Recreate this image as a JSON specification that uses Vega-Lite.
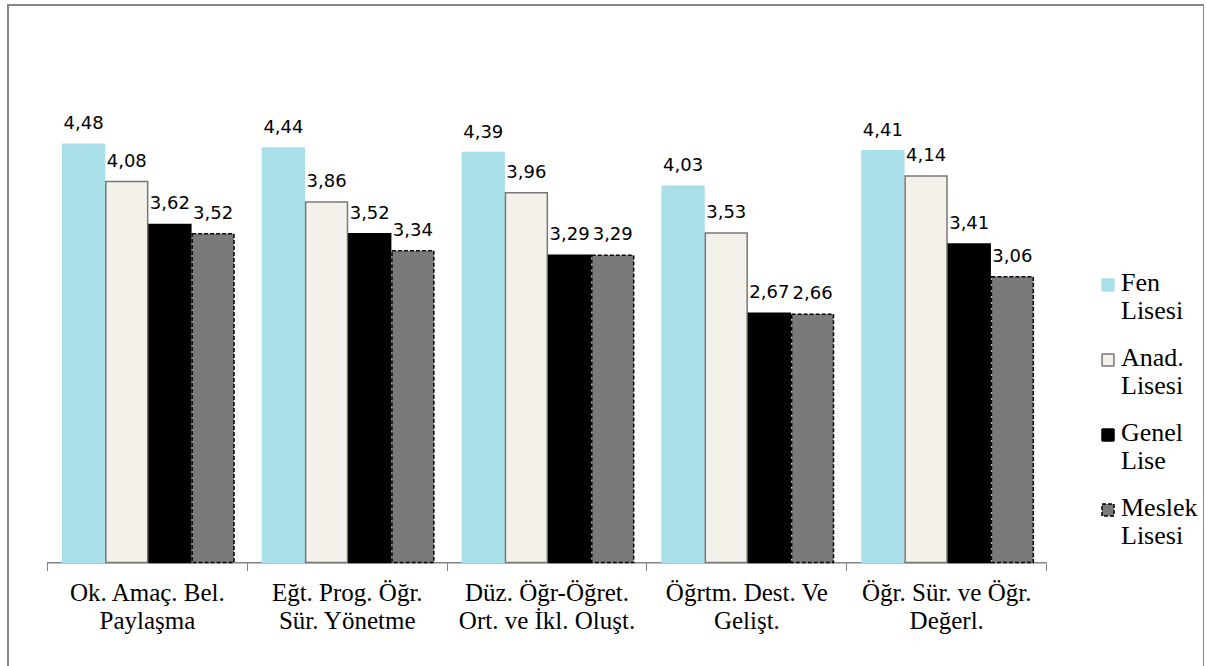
{
  "$schema": "https://vega.github.io/schema/vega-lite/v6.json",
  "width": 1196,
  "height": 665,
  "padding": {"left": 8, "top": 5, "right": 0, "bottom": 0},
  "autosize": {"type": "none"},
  "background": "white",
  "config": {
    "view": {"stroke": "#868686", "strokeWidth": 2},
    "locale": {"number": {"decimal": ",", "thousands": ".", "grouping": [3], "currency": ["", " TL"]}}
  },
  "data": {
    "values": [
      {"boyut": "Ok. Amaç. Bel.\nPaylaşma", "okul": "Fen Lisesi", "ort": 4.48},
      {"boyut": "Ok. Amaç. Bel.\nPaylaşma", "okul": "Anad. Lisesi", "ort": 4.08},
      {"boyut": "Ok. Amaç. Bel.\nPaylaşma", "okul": "Genel Lise", "ort": 3.62},
      {"boyut": "Ok. Amaç. Bel.\nPaylaşma", "okul": "Meslek Lisesi", "ort": 3.52},
      {"boyut": "Eğt. Prog. Öğr.\nSür. Yönetme", "okul": "Fen Lisesi", "ort": 4.44},
      {"boyut": "Eğt. Prog. Öğr.\nSür. Yönetme", "okul": "Anad. Lisesi", "ort": 3.86},
      {"boyut": "Eğt. Prog. Öğr.\nSür. Yönetme", "okul": "Genel Lise", "ort": 3.52},
      {"boyut": "Eğt. Prog. Öğr.\nSür. Yönetme", "okul": "Meslek Lisesi", "ort": 3.34},
      {"boyut": "Düz. Öğr-Öğret.\nOrt. ve İkl. Oluşt.", "okul": "Fen Lisesi", "ort": 4.39},
      {"boyut": "Düz. Öğr-Öğret.\nOrt. ve İkl. Oluşt.", "okul": "Anad. Lisesi", "ort": 3.96},
      {"boyut": "Düz. Öğr-Öğret.\nOrt. ve İkl. Oluşt.", "okul": "Genel Lise", "ort": 3.29},
      {"boyut": "Düz. Öğr-Öğret.\nOrt. ve İkl. Oluşt.", "okul": "Meslek Lisesi", "ort": 3.29},
      {"boyut": "Öğrtm. Dest. Ve\nGelişt.", "okul": "Fen Lisesi", "ort": 4.03},
      {"boyut": "Öğrtm. Dest. Ve\nGelişt.", "okul": "Anad. Lisesi", "ort": 3.53},
      {"boyut": "Öğrtm. Dest. Ve\nGelişt.", "okul": "Genel Lise", "ort": 2.67},
      {"boyut": "Öğrtm. Dest. Ve\nGelişt.", "okul": "Meslek Lisesi", "ort": 2.66},
      {"boyut": "Öğr. Sür. ve Öğr.\nDeğerl.", "okul": "Fen Lisesi", "ort": 4.41},
      {"boyut": "Öğr. Sür. ve Öğr.\nDeğerl.", "okul": "Anad. Lisesi", "ort": 4.14},
      {"boyut": "Öğr. Sür. ve Öğr.\nDeğerl.", "okul": "Genel Lise", "ort": 3.41},
      {"boyut": "Öğr. Sür. ve Öğr.\nDeğerl.", "okul": "Meslek Lisesi", "ort": 3.06}
    ]
  },
  "encoding": {
    "x": {
      "field": "boyut", "type": "nominal", "sort": null,
      "scale": {"type": "band", "paddingInner": 0, "paddingOuter": 0.4925, "align": 0.198},
      "axis": {
        "title": null, "orient": "bottom", "offset": -107.4, "domain": false,
        "tickBand": "extent", "tickColor": "#868686", "tickSize": 8,
        "labelAngle": 0, "labelFont": "Liberation Serif", "labelFontSize": 25,
        "labelColor": "black", "labelLineHeight": 28, "labelPadding": 10,
        "labelBaseline": "top", "labelLimit": 400,
        "labelExpr": "split(datum.label, '\\n')"
      }
    }
  },
  "layer": [
    {
      "mark": {"type": "bar", "fill": null, "stroke": "#868686", "strokeWidth": 1},
      "encoding": {
        "y": {"datum": 0, "type": "quantitative", "scale": {"domain": [-1.15, 5.97], "nice": false, "zero": false}, "axis": null},
        "y2": {"datum": 0}
      }
    },
    {
      "mark": {"type": "bar", "strokeWidth": 1.5},
      "encoding": {
        "xOffset": {"field": "okul", "type": "nominal", "sort": null, "scale": {"paddingInner": 0.03, "paddingOuter": 0.33, "align": 0.55}},
        "y": {"field": "ort", "type": "quantitative", "scale": {"domain": [-1.15, 5.97], "nice": false, "zero": false}, "axis": null},
        "y2": {"datum": 0},
        "color": {
          "field": "okul", "type": "nominal", "sort": null,
          "scale": {"domain": ["Fen Lisesi", "Anad. Lisesi", "Genel Lise", "Meslek Lisesi"], "range": ["#a9dfe9", "#f4f1ea", "#000000", "#7a7a7a"]},
          "legend": {
            "title": null, "orient": "none", "legendX": 1087, "legendY": 267,
            "symbolType": "square", "symbolSize": 144, "symbolStrokeWidth": 1.5,
            "labelFont": "Liberation Serif", "labelFontSize": 26, "labelColor": "black",
            "labelLineHeight": 30, "labelBaseline": "top", "labelOffset": 0, "labelLimit": 200,
            "rowPadding": 21, "padding": 0,
            "labelExpr": "split(datum.label, ' ')",
            "encode": {"labels": {"update": {"dy": {"value": -15}}}}
          }
        },
        "stroke": {
          "field": "okul", "type": "nominal", "sort": null,
          "scale": {"domain": ["Fen Lisesi", "Anad. Lisesi", "Genel Lise", "Meslek Lisesi"], "range": ["#a9dfe9", "#777777", "#000000", "#000000"]}
        },
        "strokeDash": {
          "field": "okul", "type": "nominal", "sort": null,
          "scale": {"domain": ["Fen Lisesi", "Anad. Lisesi", "Genel Lise", "Meslek Lisesi"], "range": [[1, 0], [1, 0], [1, 0], [4, 2]]}
        }
      }
    },
    {
      "mark": {"type": "text", "baseline": "alphabetic", "align": "center", "dy": -15, "font": "DejaVu Sans", "fontSize": 18, "color": "black"},
      "encoding": {
        "xOffset": {"field": "okul", "type": "nominal", "sort": null},
        "y": {"field": "ort", "type": "quantitative"},
        "text": {"field": "ort", "type": "quantitative", "format": ".2f"}
      }
    }
  ]
}
